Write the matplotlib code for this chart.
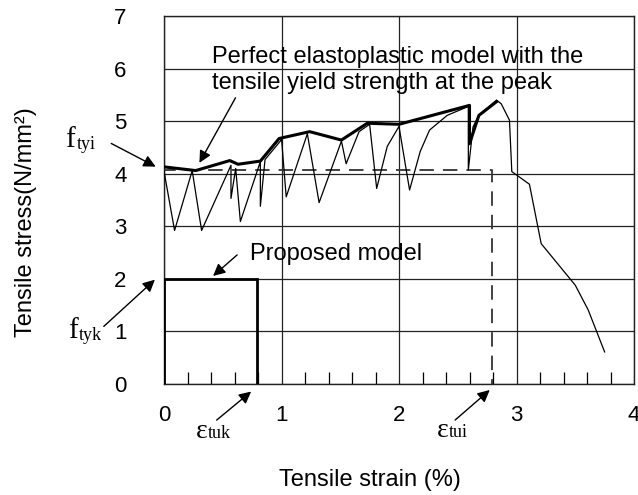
import matplotlib
matplotlib.use("Agg")
import matplotlib.pyplot as plt
from matplotlib.ticker import MultipleLocator

plt.rcParams['font.family'] = ['Liberation Sans', 'DejaVu Sans']

# Test curve (thin line)
test_x = [0.00, 0.09, 0.24, 0.32, 0.57, 0.57, 0.61, 0.65, 0.82, 0.82, 0.86, 0.99, 1.00,
          1.04, 1.22, 1.32, 1.51, 1.55, 1.66, 1.75, 1.81, 1.90, 2.00, 2.09, 2.18, 2.26,
          2.41, 2.59, 2.59, 2.63, 2.68, 2.83, 2.87, 2.94, 2.96, 3.11, 3.21, 3.50, 3.61, 3.75]
test_y = [4.05, 2.92, 4.06, 2.92, 4.16, 3.53, 4.10, 3.09, 4.23, 3.38, 4.27, 4.62, 4.67,
          3.56, 4.76, 3.45, 4.62, 4.19, 4.80, 4.94, 3.72, 4.52, 4.90, 3.69, 4.42, 4.83,
          5.11, 5.28, 4.07, 4.89, 5.11, 5.40, 5.33, 5.02, 4.04, 3.80, 2.67, 1.88, 1.41, 0.61]

# Envelope (thick line)
env_x = [0.00, 0.27, 0.56, 0.63, 0.82, 0.98, 1.24, 1.51, 1.73, 2.00, 2.60, 2.60, 2.68, 2.83]
env_y = [4.13, 4.06, 4.25, 4.18, 4.24, 4.67, 4.80, 4.64, 4.96, 4.94, 5.30, 4.57, 5.11, 5.37]

# Perfect elastoplastic model (dashed)
f_tyi = 4.08
eps_tui = 2.79
# Proposed model (solid box)
f_tyk = 2.0
eps_tuk = 0.79

fig = plt.figure(figsize=(6.38, 4.95), dpi=100)
ax = fig.add_axes([164/638, 111/495, 470/638, 368/495])

ax.plot(test_x, test_y, color='black', lw=0.9, zorder=3)
ax.plot(env_x, env_y, color='black', lw=2.2, zorder=4)
ax.plot([0, 0, eps_tui, eps_tui], [0, f_tyi, f_tyi, 0], color='#333333', lw=1.3,
        dashes=(8, 5), zorder=2)
ax.plot([0, 0, eps_tuk, eps_tuk], [0, f_tyk, f_tyk, 0], color='black', lw=2.0, zorder=5,
        solid_joinstyle='miter')

ax.set_xlim(0, 4)
ax.set_ylim(0, 7)
ax.xaxis.set_major_locator(MultipleLocator(1))
ax.xaxis.set_minor_locator(MultipleLocator(0.2))
ax.yaxis.set_major_locator(MultipleLocator(1))
ax.grid(True, which='major', color='#222222', lw=0.9)
ax.set_axisbelow(True)
ax.tick_params(axis='x', which='major', direction='in', length=0, pad=15, labelsize=16)
ax.tick_params(axis='x', which='minor', direction='in', length=9, width=0.9)
ax.tick_params(axis='y', which='both', length=0, pad=27, labelsize=16)
for s in ax.spines.values():
    s.set_linewidth(1.0)
    s.set_color('#222222')

fs = 17
ax.text(0.41, 6.10, 'Perfect elastoplastic model with the', fontsize=fs, va='baseline', ha='left')
ax.text(0.41, 5.62, 'tensile yield strength at the peak', fontsize=fs, va='baseline', ha='left')
ax.annotate('', xy=(0.29, 4.16), xytext=(0.62, 5.49),
            arrowprops=dict(arrowstyle='-|>', color='black', lw=1.0, mutation_scale=18))

ax.text(0.73, 2.36, 'Proposed model', fontsize=fs, va='baseline', ha='left')
ax.annotate('', xy=(0.40, 2.02), xytext=(0.64, 2.49),
            arrowprops=dict(arrowstyle='-|>', color='black', lw=1.0, mutation_scale=18))

serif = ['Liberation Serif', 'DejaVu Serif']
# f_tyi
ax.text(-0.84, 4.50, 'f', fontsize=21, family=serif, va='baseline', ha='left', clip_on=False)
ax.text(-0.745, 4.47, 'tyi', fontsize=13, family=serif, va='baseline', ha='left', clip_on=False)
ax.annotate('', xy=(-0.05, 4.11), xytext=(-0.47, 4.60), annotation_clip=False,
            arrowprops=dict(arrowstyle='-|>', color='black', lw=1.0, mutation_scale=18))
# f_tyk
ax.text(-0.82, 0.87, 'f', fontsize=21, family=serif, va='baseline', ha='left', clip_on=False)
ax.text(-0.725, 0.84, 'tyk', fontsize=13, family=serif, va='baseline', ha='left', clip_on=False)
ax.annotate('', xy=(-0.06, 2.02), xytext=(-0.53, 1.06), annotation_clip=False,
            arrowprops=dict(arrowstyle='-|>', color='black', lw=1.0, mutation_scale=18))
# eps_tuk
ax.text(0.27, -1.03, 'ε', fontsize=20, family=serif, va='baseline', ha='left', clip_on=False)
ax.text(0.375, -1.03, 'tuk', fontsize=13, family=serif, va='baseline', ha='left', clip_on=False)
ax.annotate('', xy=(0.76, -0.11), xytext=(0.43, -0.72), annotation_clip=False,
            arrowprops=dict(arrowstyle='-|>', color='black', lw=1.0, mutation_scale=18))
# eps_tui
ax.text(2.32, -1.00, 'ε', fontsize=20, family=serif, va='baseline', ha='left', clip_on=False)
ax.text(2.425, -1.00, 'tui', fontsize=13, family=serif, va='baseline', ha='left', clip_on=False)
ax.annotate('', xy=(2.79, -0.08), xytext=(2.46, -0.72), annotation_clip=False,
            arrowprops=dict(arrowstyle='-|>', color='black', lw=1.0, mutation_scale=18))

fig.text(370/638, 9/495, 'Tensile strain (%)', fontsize=fs, ha='center', va='baseline')
fig.text(26/638, 1 - 222/495, 'Tensile stress(N/mm²)', fontsize=fs, ha='center', va='center',
         rotation=90)

fig.savefig('out.png', dpi=100)
